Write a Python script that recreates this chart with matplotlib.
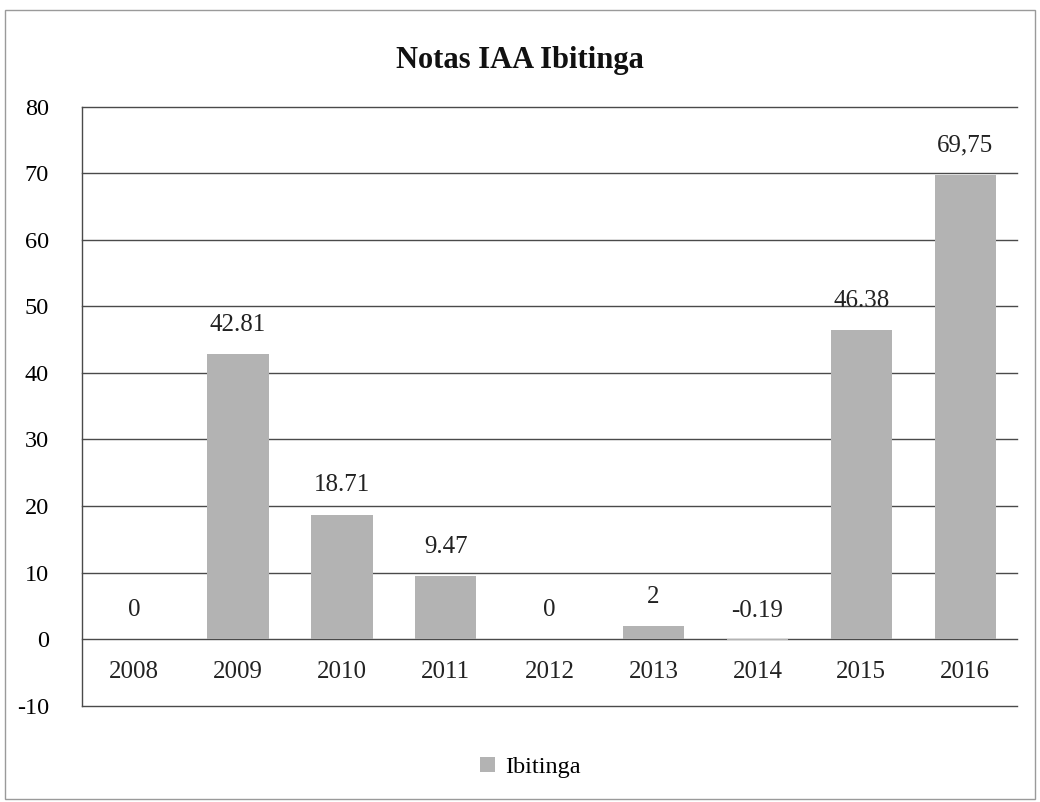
import matplotlib.pyplot as plt
from matplotlib.patches import Rectangle

# Chart data
years = ['2008', '2009', '2010', '2011', '2012', '2013', '2014', '2015', '2016']
notas = [0, 42.81, 18.71, 9.47, 0, 2, -0.19, 46.38, 69.75]
value_labels = ['0', '42.81', '18.71', '9.47', '0', '2', '-0.19', '46.38', '69,75']
y_ticks = [-10, 0, 10, 20, 30, 40, 50, 60, 70, 80]

plt.rcParams['font.family'] = ['Liberation Serif', 'DejaVu Serif']

fig = plt.figure(figsize=(10.4, 8.02), dpi=100)
ax = fig.add_axes([0.079, 0.12, 0.899, 0.747])

x = list(range(len(years)))
bars = ax.bar(x, notas, width=0.59, color='#b3b3b3', zorder=3, label='Ibitinga')

# Horizontal grid lines at every tick
for yv in y_ticks:
    ax.axhline(yv, color='#4a4a4a', linewidth=1.0, zorder=1, clip_on=False)

ax.set_xlim(-0.5, len(years) - 0.5)
ax.set_ylim(-10, 80)
ax.set_yticks(y_ticks)
ax.set_yticklabels([str(v) for v in y_ticks], fontsize=17.5)
ax.tick_params(axis='y', length=0, pad=24)
ax.set_xticks([])

for side in ['top', 'right', 'bottom']:
    ax.spines[side].set_visible(False)
ax.spines['left'].set_color('#4a4a4a')
ax.spines['left'].set_linewidth(1.0)

# Category labels sit inside the plot, between 0 and -10
for xi, yr in zip(x, years):
    ax.text(xi, -5, yr, ha='center', va='center', fontsize=18, color='#222222')

# Value labels above the bars
for xi, v, lab in zip(x, notas, value_labels):
    ax.annotate(lab, xy=(xi, v), xytext=(0, 21), textcoords='offset points',
                ha='center', va='center', fontsize=18, color='#222222')

fig.text(0.5, 0.924, 'Notas IAA Ibitinga', ha='center', va='center',
         fontsize=22, fontweight='bold', color='#111111')

fig.legend(handles=[bars], labels=['Ibitinga'], loc='center',
           bbox_to_anchor=(0.51, 0.043), frameon=False, fontsize=17.5,
           handlelength=0.6, handleheight=0.6, handletextpad=0.4)

# Thin grey border around the whole chart
fig.patches.append(Rectangle((0.005, 0.004), 0.99, 0.983, transform=fig.transFigure,
                             fill=False, edgecolor='#9a9a9a', linewidth=1.0))

fig.savefig('out.png', dpi=100)
